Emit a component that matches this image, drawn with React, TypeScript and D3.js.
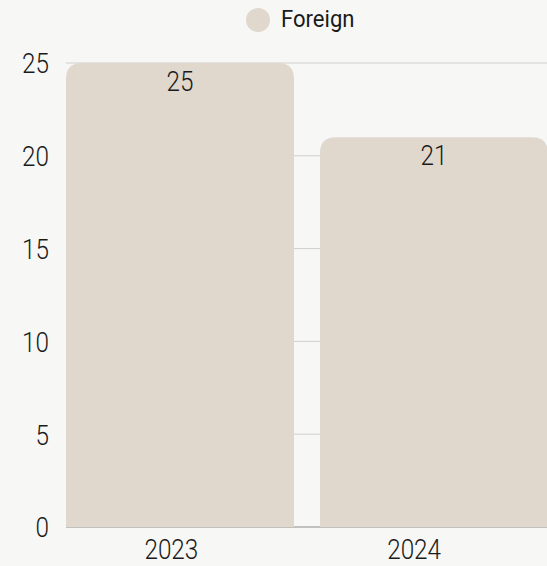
import React from 'react';
import * as d3 from 'd3';

const years = ['2023', '2024'];
const foreign = [25, 21];
const yTicks = [0, 5, 10, 15, 20, 25];
const seriesName = 'Foreign';

const W = 547;
const H = 566;
const barColor = '#e0d7cd';
const bg = '#f7f7f5';
const ink = '#1a1a1a';
const font = 'Roboto, "Noto Sans", sans-serif';

// rounded top corners only
const barPath = (x: number, y: number, w: number, h: number, r: number) => {
  const rr = Math.min(r, w / 2, h);
  return `M${x},${y + h}V${y + rr}Q${x},${y} ${x + rr},${y}H${x + w - rr}Q${x + w},${y} ${x + w},${y + rr}V${y + h}Z`;
};

// narrow-ish text: squeeze horizontally around the anchor point
const Label = ({ x, y, anchor = 'middle', size = 27, sx = 0.9, weight = 300, dy, children }: any) => (
  <text
    transform={`translate(${x},${y}) scale(${sx},1)`}
    dy={dy}
    textAnchor={anchor}
    fontFamily={font}
    fontWeight={weight}
    fontSize={size}
    fill={ink}
  >
    {children}
  </text>
);

const App = () => {
  const x = d3.scaleBand().domain(years).range([66, 548]).paddingInner(0.1024).paddingOuter(0);
  // category labels sit on their own axis band
  const xl = d3.scaleBand().domain(years).range([50, 535.5]);
  const y = d3.scaleLinear().domain([0, 25]).range([527, 63]);

  return (
    <svg width={W} height={H} style={{ position: 'absolute', left: 0, top: 0, background: bg }}>
      <rect x={0} y={0} width={W} height={H} fill={bg} />
      {/* legend */}
      <g>
        <circle cx={258} cy={20} r={12} fill={barColor} />
        <Label x={281} y={19} anchor="start" size={24} sx={0.92} weight={400} dy="0.35em">{seriesName}</Label>
      </g>
      {/* grid */}
      {yTicks.map((t) => (
        <line key={t} x1={66} x2={W} y1={y(t)} y2={y(t)} stroke={t === 0 ? '#8a8a8a' : '#cfcfcf'} strokeWidth={1} />
      ))}
      {/* y labels */}
      {yTicks.map((t) => (
        <Label key={'l' + t} x={49} y={y(t) + 1} anchor="end" dy="0.35em">{t}</Label>
      ))}
      {/* bars */}
      {years.map((yr, i) => (
        <g key={yr}>
          <path d={barPath(x(yr)!, y(foreign[i]), x.bandwidth(), y(0) - y(foreign[i]), 16)} fill={barColor} />
          <Label x={x(yr)! + x.bandwidth() / 2} y={y(foreign[i]) + 28}>{foreign[i]}</Label>
          <Label x={xl(yr)! + xl.bandwidth() / 2} y={559}>{yr}</Label>
        </g>
      ))}
    </svg>
  );
};

export default App;
